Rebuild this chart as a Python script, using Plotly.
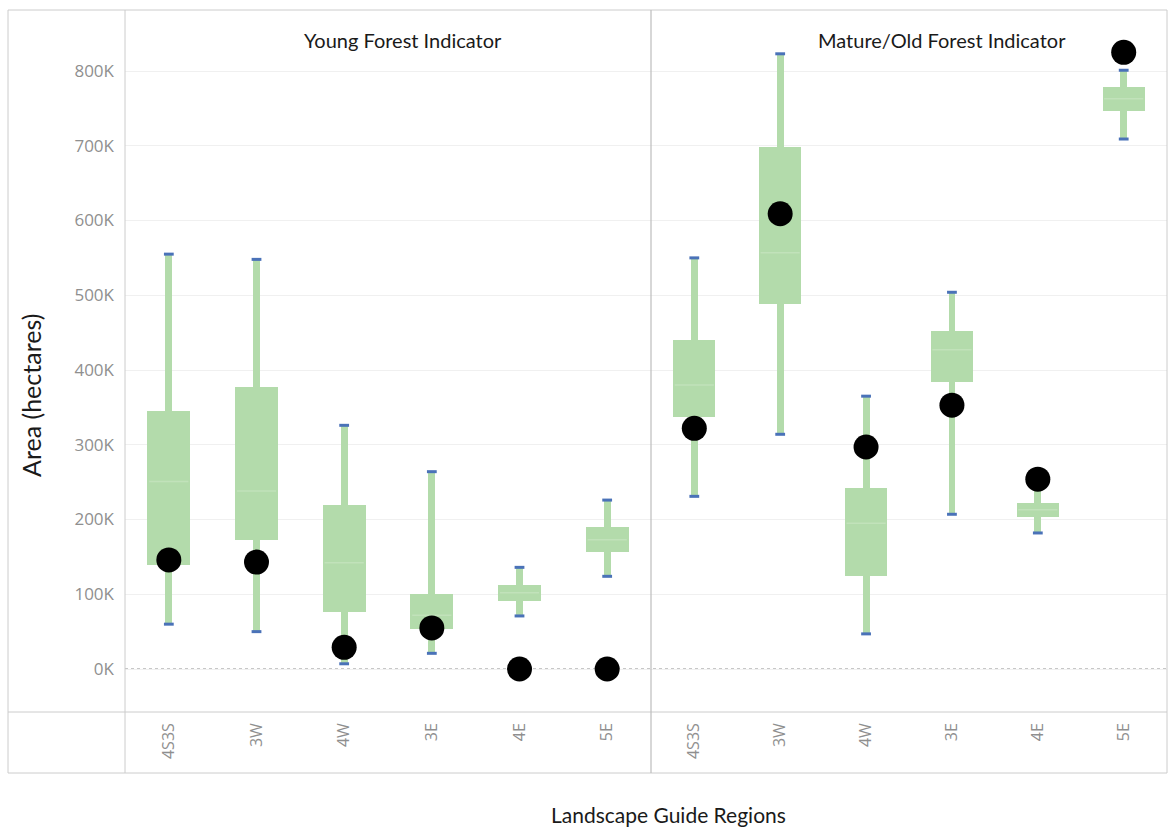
import plotly.graph_objects as go
from plotly.subplots import make_subplots

regions = ["4S3S", "3W", "4W", "3E", "4E", "5E"]

# Young Forest Indicator (values in hectares)
young_low = [60000, 50000, 7000, 21000, 71000, 124000]
young_q1 = [139000, 173000, 76000, 54000, 91000, 157000]
young_median = [251000, 238000, 142000, 72000, 102000, 173000]
young_q3 = [345000, 377000, 219000, 100000, 112000, 190000]
young_high = [555000, 548000, 326000, 264000, 136000, 226000]
young_current = [146000, 143000, 29000, 55000, 0, 0]

# Mature/Old Forest Indicator
mature_low = [231000, 314000, 47000, 207000, 182000, 709000]
mature_q1 = [337000, 488000, 124000, 384000, 203000, 746000]
mature_median = [380000, 557000, 195000, 427000, 213000, 763000]
mature_q3 = [440000, 698000, 242000, 452000, 222000, 779000]
mature_high = [550000, 823000, 365000, 504000, 245000, 801000]
mature_current = [322000, 609000, 297000, 353000, 254000, 825000]

panel_titles = ["Young Forest Indicator", "Mature/Old Forest Indicator"]
tick_vals = [0, 100000, 200000, 300000, 400000, 500000, 600000, 700000, 800000]
tick_text = ["0K", "100K", "200K", "300K", "400K", "500K", "600K", "700K", "800K"]

GREEN = "#b3dbab"
MED = "#c1e2ba"
BLUE = "#4a72b8"
FONT = "Open Sans"
TFONT = "Lato"

W, H = 1168, 830
L, R, T, B = 125, 1, 10, 118
pw = W - L - R
ph = H - T - B


def px_x(x):
    return (x - L) / pw


def px_y(y):
    return (H - B - y) / ph


fig = make_subplots(rows=1, cols=2, shared_yaxes=True, horizontal_spacing=0)

panels = [
    (young_low, young_q1, young_median, young_q3, young_high, young_current),
    (mature_low, mature_q1, mature_median, mature_q3, mature_high, mature_current),
]

for c, (lo, q1, med, q3, hi, cur) in enumerate(panels, start=1):
    fig.add_trace(go.Bar(x=regions, base=lo, y=[h - l for h, l in zip(hi, lo)],
                         width=0.08, marker=dict(color=GREEN, line=dict(width=0)),
                         hoverinfo="skip"), row=1, col=c)
    fig.add_trace(go.Bar(x=regions, base=q1, y=[a - b for a, b in zip(q3, q1)],
                         width=0.49, marker=dict(color=GREEN, line=dict(width=0)),
                         hoverinfo="skip"), row=1, col=c)
    fig.add_trace(go.Scatter(x=regions, y=med, mode="markers",
                             marker=dict(symbol="line-ew", size=28,
                                         line=dict(color=MED, width=1.5)),
                             hoverinfo="skip"), row=1, col=c)
    fig.add_trace(go.Scatter(x=regions + regions, y=lo + hi, mode="markers",
                             marker=dict(symbol="line-ew", size=7,
                                         line=dict(color=BLUE, width=3)),
                             hoverinfo="skip"), row=1, col=c)
    fig.add_trace(go.Scatter(x=regions, y=cur, mode="markers",
                             marker=dict(color="black", size=25, line=dict(width=0))),
                  row=1, col=c)

split = 526 / pw
fig.update_layout(
    width=W, height=H,
    margin=dict(l=L, r=R, t=T, b=B),
    paper_bgcolor="white", plot_bgcolor="white",
    barmode="overlay", bargap=0, showlegend=False,
    font=dict(family=FONT, color="#333"),
    xaxis=dict(domain=[0, split]),
    xaxis2=dict(domain=[split, 1]),
)
fig.update_xaxes(type="category", showgrid=False, zeroline=False, showline=False,
                 tickangle=-90, tickfont=dict(size=16, color="#8f8f8f", family=FONT),
                 ticks="", ticklabelstandoff=7)
fig.update_yaxes(range=[-57500, 881600], tickvals=tick_vals, ticktext=tick_text,
                 showgrid=True, gridcolor="#f0f0f0", gridwidth=1, zeroline=False,
                 showline=False, ticks="", tickfont=dict(size=17, color="#8f8f8f", family=FONT))
fig.update_yaxes(ticklabelstandoff=10, row=1, col=1)

line_col = "#cccccc"
shapes = [
    dict(type="line", xref="paper", yref="y", x0=0, x1=1, y0=0, y1=0,
         line=dict(color="#b5b5b5", width=1.5, dash="dot"), layer="below"),
    dict(type="rect", xref="paper", yref="paper", x0=px_x(8), x1=px_x(1167),
         y0=px_y(773), y1=px_y(10), line=dict(color=line_col, width=1)),
    dict(type="line", xref="paper", yref="paper", x0=0, x1=0,
         y0=px_y(773), y1=1, line=dict(color=line_col, width=1)),
    dict(type="line", xref="paper", yref="paper", x0=px_x(8), x1=px_x(1167),
         y0=0, y1=0, line=dict(color=line_col, width=1)),
    dict(type="line", xref="paper", yref="paper", x0=split, x1=split,
         y0=px_y(773), y1=1, line=dict(color="#bdbdbd", width=1.2)),
]
fig.update_layout(shapes=shapes)

annotations = [
    dict(text=panel_titles[0], x=px_x(403), y=px_y(40), xref="paper", yref="paper",
         showarrow=False, xanchor="center", yanchor="middle",
         font=dict(size=20, color="#1a1a1a", family=TFONT)),
    dict(text=panel_titles[1], x=px_x(942), y=px_y(40), xref="paper", yref="paper",
         showarrow=False, xanchor="center", yanchor="middle",
         font=dict(size=20, color="#1a1a1a", family=TFONT)),
    dict(text="Area (hectares)", x=px_x(31), y=px_y(396), xref="paper", yref="paper",
         showarrow=False, textangle=-90, xanchor="center", yanchor="middle",
         font=dict(size=25, color="#1a1a1a", family=TFONT)),
    dict(text="Landscape Guide Regions", x=px_x(668), y=px_y(814), xref="paper",
         yref="paper", showarrow=False, xanchor="center", yanchor="middle",
         font=dict(size=21, color="#1a1a1a", family=TFONT)),
]
fig.update_layout(annotations=annotations)

fig.write_html("out.html", config={"displayModeBar": False},
               post_script="document.body.style.margin='0';document.body.style.overflow='hidden';")
